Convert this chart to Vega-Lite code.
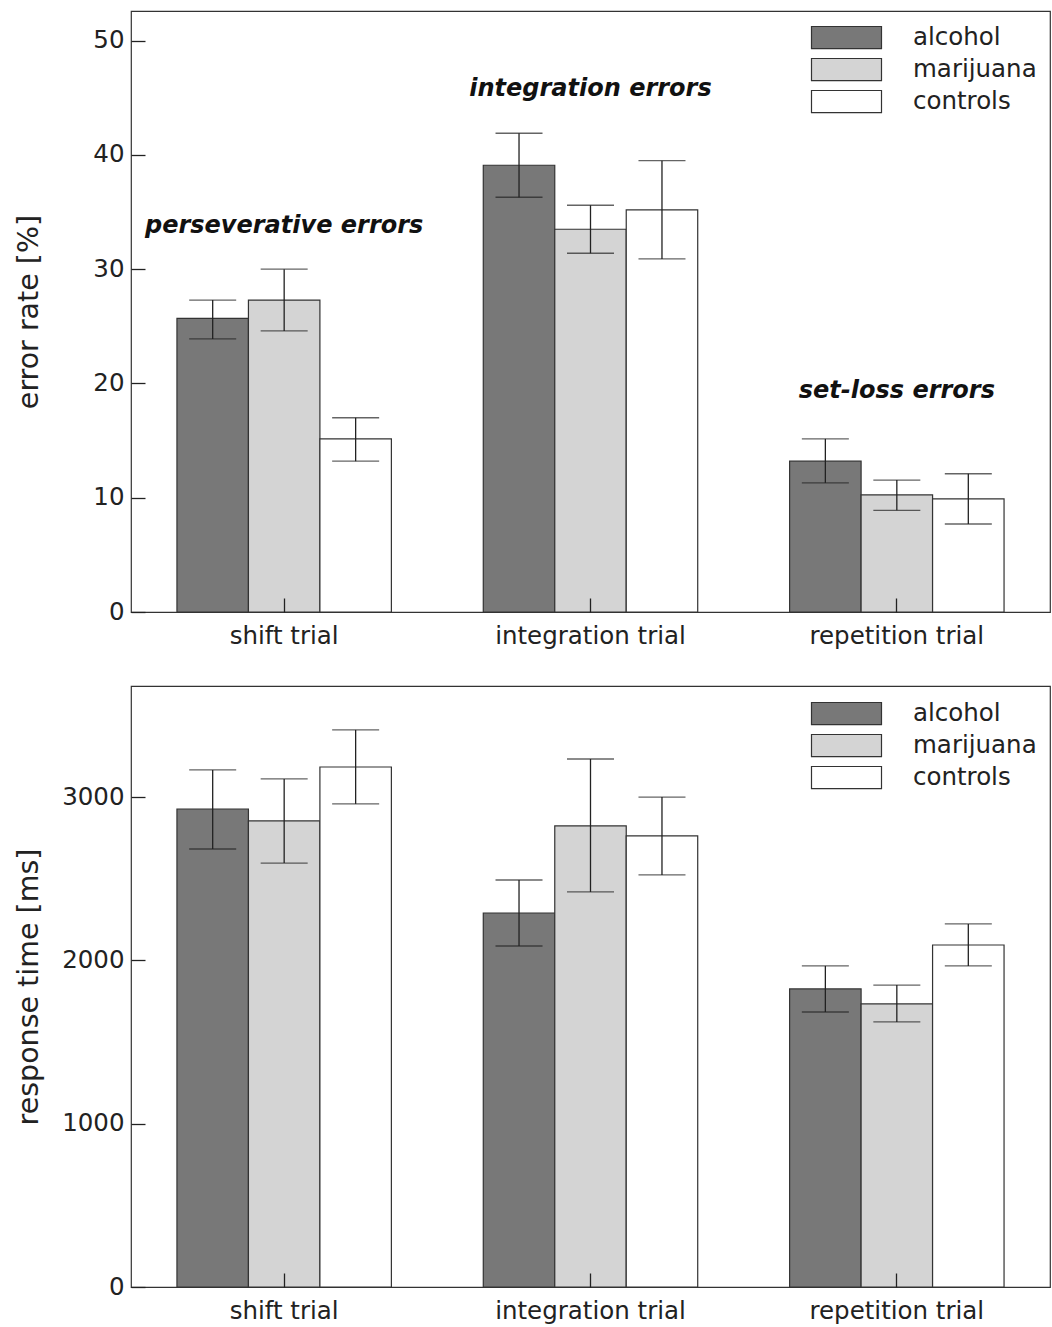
{
  "$schema": "https://vega.github.io/schema/vega-lite/v6.json",
  "background": "white",
  "padding": {"left": 14, "top": 10, "right": 2, "bottom": 2},
  "config": {
    "font": "DejaVu Sans",
    "view": {"stroke": "#333333", "strokeWidth": 1.2},
    "axis": {
      "grid": false, "domain": false, "ticks": true, "tickColor": "#222222", "tickSize": -14, "tickWidth": 1.3, "zindex": 2,
      "labelFont": "DejaVu Sans", "labelFontSize": 24.5, "labelColor": "#222222", "labelLimit": 0,
      "titleFont": "DejaVu Sans", "titleFontSize": 28.5, "titleFontWeight": "normal", "titleColor": "#222222"
    },
    "axisX": {"labelPadding": 26},
    "axisY": {"labelPadding": 21},
    "legend": {
      "orient": "none", "title": null, "padding": 0,
      "symbolType": "M-2,-0.63H2V0.63H-2Z", "symbolSize": 1225,
      "symbolStrokeColor": "#333333", "symbolStrokeWidth": 1.2, "symbolOpacity": 1,
      "labelFont": "DejaVu Sans", "labelFontSize": 24.5, "labelColor": "#222222", "labelOffset": 48, "rowPadding": -4
    }
  },
  "datasets": {
    "errors": [
      {"trial": "shift trial", "group": "alcohol", "value": 25.7, "lo": 23.9, "hi": 27.3},
      {"trial": "shift trial", "group": "marijuana", "value": 27.3, "lo": 24.6, "hi": 30.0},
      {"trial": "shift trial", "group": "controls", "value": 15.15, "lo": 13.2, "hi": 17.0},
      {"trial": "integration trial", "group": "alcohol", "value": 39.1, "lo": 36.3, "hi": 41.9},
      {"trial": "integration trial", "group": "marijuana", "value": 33.5, "lo": 31.4, "hi": 35.6},
      {"trial": "integration trial", "group": "controls", "value": 35.2, "lo": 30.9, "hi": 39.5},
      {"trial": "repetition trial", "group": "alcohol", "value": 13.2, "lo": 11.3, "hi": 15.15},
      {"trial": "repetition trial", "group": "marijuana", "value": 10.25, "lo": 8.9, "hi": 11.55},
      {"trial": "repetition trial", "group": "controls", "value": 9.9, "lo": 7.7, "hi": 12.1}
    ],
    "errorLabels": [
      {"trial": "shift trial", "label": "perseverative errors", "pos": 33.8},
      {"trial": "integration trial", "label": "integration errors", "pos": 45.8},
      {"trial": "repetition trial", "label": "set-loss errors", "pos": 19.3}
    ],
    "times": [
      {"trial": "shift trial", "group": "alcohol", "value": 2927, "lo": 2682, "hi": 3166},
      {"trial": "shift trial", "group": "marijuana", "value": 2854, "lo": 2596, "hi": 3111},
      {"trial": "shift trial", "group": "controls", "value": 3184, "lo": 2958, "hi": 3411},
      {"trial": "integration trial", "group": "alcohol", "value": 2290, "lo": 2088, "hi": 2492},
      {"trial": "integration trial", "group": "marijuana", "value": 2823, "lo": 2419, "hi": 3233},
      {"trial": "integration trial", "group": "controls", "value": 2762, "lo": 2523, "hi": 3000},
      {"trial": "repetition trial", "group": "alcohol", "value": 1825, "lo": 1684, "hi": 1966},
      {"trial": "repetition trial", "group": "marijuana", "value": 1733, "lo": 1623, "hi": 1849},
      {"trial": "repetition trial", "group": "controls", "value": 2094, "lo": 1966, "hi": 2223}
    ]
  },
  "resolve": {"scale": {"color": "independent", "y": "independent"}, "legend": {"color": "independent"}},
  "spacing": 36,
  "vconcat": [
    {
      "width": 919, "height": 601,
      "data": {"name": "errors"},
      "encoding": {
        "x": {"field": "trial", "type": "nominal", "sort": ["shift trial", "integration trial", "repetition trial"],
              "scale": {"paddingInner": 0.3, "paddingOuter": 0.15},
              "axis": {"title": null, "labelAngle": 0, "ticks": true, "tickBand": "center", "zindex": 2}},
        "xOffset": {"field": "group", "type": "nominal", "sort": ["alcohol", "marijuana", "controls"], "scale": {"paddingInner": 0, "paddingOuter": 0}}
      },
      "layer": [
        {
          "mark": {"type": "bar", "stroke": "#333333", "strokeWidth": 1.2},
          "encoding": {
            "y": {"field": "value", "type": "quantitative", "scale": {"domain": [0, 52.6], "nice": false},
                  "axis": {"title": "error rate [%]", "values": [0, 10, 20, 30, 40, 50], "titlePadding": 49}},
            "color": {"field": "group", "type": "nominal", "sort": ["alcohol", "marijuana", "controls"],
                      "scale": {"domain": ["alcohol", "marijuana", "controls"], "range": ["#787878", "#d4d4d4", "#ffffff"]},
                      "legend": {"legendX": 697, "legendY": 8}}
          }
        },
        {
          "mark": {"type": "rule", "color": "#222222", "strokeWidth": 1.3},
          "encoding": {"y": {"field": "lo", "type": "quantitative"}, "y2": {"field": "hi"}}
        },
        {
          "mark": {"type": "tick", "color": "#222222", "thickness": 1.3, "size": 47},
          "encoding": {"y": {"field": "lo", "type": "quantitative"}}
        },
        {
          "mark": {"type": "tick", "color": "#222222", "thickness": 1.3, "size": 47},
          "encoding": {"y": {"field": "hi", "type": "quantitative"}}
        },
        {
          "data": {"name": "errorLabels"},
          "mark": {"type": "text", "font": "DejaVu Sans", "fontSize": 24, "fontWeight": "bold", "fontStyle": "italic", "color": "#111111", "baseline": "middle"},
          "encoding": {
            "x": {"field": "trial", "type": "nominal", "sort": ["shift trial", "integration trial", "repetition trial"]},
            "xOffset": null,
            "y": {"field": "pos", "type": "quantitative"},
            "text": {"field": "label"}
          }
        }
      ]
    },
    {
      "width": 919, "height": 601,
      "data": {"name": "times"},
      "encoding": {
        "x": {"field": "trial", "type": "nominal", "sort": ["shift trial", "integration trial", "repetition trial"],
              "scale": {"paddingInner": 0.3, "paddingOuter": 0.15},
              "axis": {"title": null, "labelAngle": 0, "ticks": true, "tickBand": "center", "zindex": 2}},
        "xOffset": {"field": "group", "type": "nominal", "sort": ["alcohol", "marijuana", "controls"], "scale": {"paddingInner": 0, "paddingOuter": 0}}
      },
      "layer": [
        {
          "mark": {"type": "bar", "stroke": "#333333", "strokeWidth": 1.2},
          "encoding": {
            "y": {"field": "value", "type": "quantitative", "scale": {"domain": [0, 3680], "nice": false},
                  "axis": {"title": "response time [ms]", "values": [0, 1000, 2000, 3000], "titlePadding": 18, "format": "d"}},
            "color": {"field": "group", "type": "nominal", "sort": ["alcohol", "marijuana", "controls"],
                      "scale": {"domain": ["alcohol", "marijuana", "controls"], "range": ["#787878", "#d4d4d4", "#ffffff"]},
                      "legend": {"legendX": 697, "legendY": 9}}
          }
        },
        {
          "mark": {"type": "rule", "color": "#222222", "strokeWidth": 1.3},
          "encoding": {"y": {"field": "lo", "type": "quantitative"}, "y2": {"field": "hi"}}
        },
        {
          "mark": {"type": "tick", "color": "#222222", "thickness": 1.3, "size": 47},
          "encoding": {"y": {"field": "lo", "type": "quantitative"}}
        },
        {
          "mark": {"type": "tick", "color": "#222222", "thickness": 1.3, "size": 47},
          "encoding": {"y": {"field": "hi", "type": "quantitative"}}
        }
      ]
    }
  ]
}
